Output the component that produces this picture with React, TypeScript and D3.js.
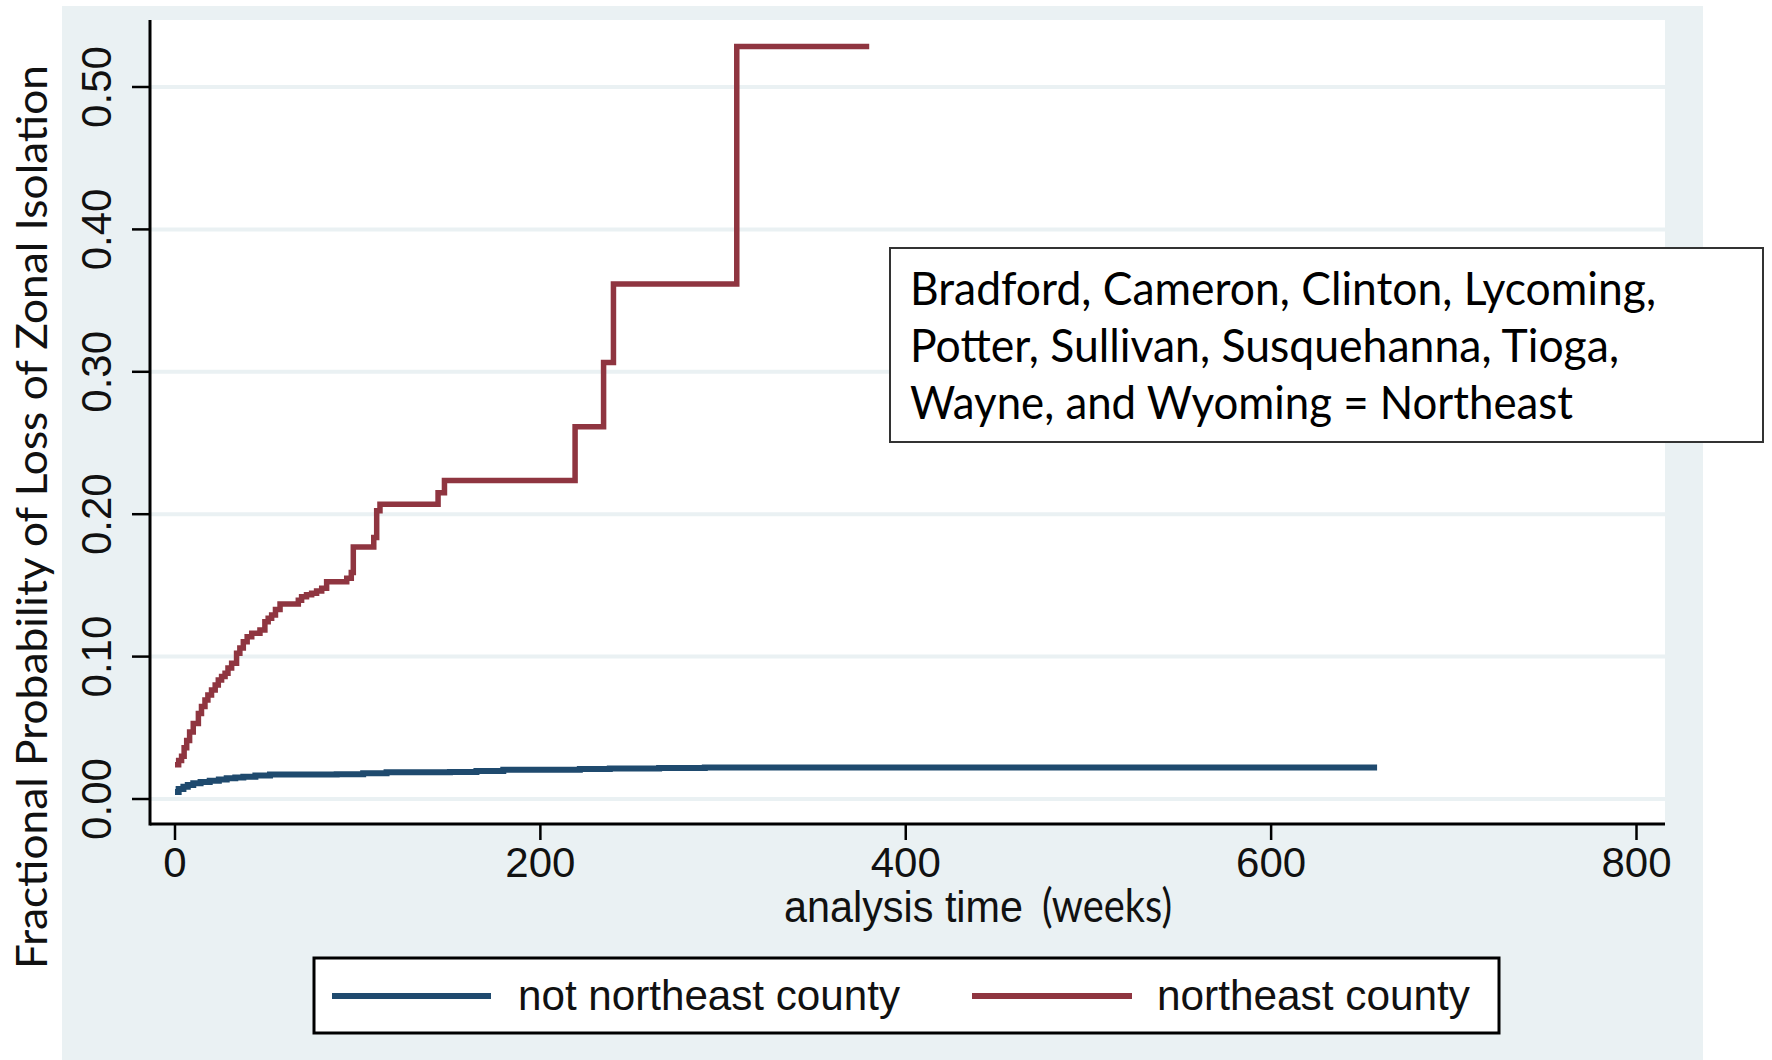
import React from 'react';
import * as d3 from 'd3';

// cumulative failure, [weeks, probability]
const northeast: [number, number][] = [
  [0, 0.024], [2, 0.027], [3.6, 0.030], [5, 0.036], [6.4, 0.041], [8, 0.047],
  [10, 0.053], [12.8, 0.060], [14.5, 0.065], [16.4, 0.0695], [18, 0.073],
  [20, 0.0765], [22, 0.080], [23.7, 0.0836], [25.5, 0.086], [27.4, 0.0883],
  [29, 0.092], [31, 0.0953], [33.7, 0.1023], [35.5, 0.106], [37.4, 0.1105],
  [39.5, 0.114], [42, 0.1164], [46.5, 0.1187], [49.2, 0.1245], [51, 0.127],
  [52.9, 0.1292], [55, 0.133], [57.5, 0.137], [67.5, 0.1395], [69.3, 0.142],
  [72, 0.1435], [74.8, 0.1445], [77.5, 0.146], [80.3, 0.148], [83, 0.1526],
  [94, 0.155], [96.5, 0.159], [97.6, 0.177], [108.8, 0.1837], [110.4, 0.2025],
  [112.2, 0.207], [144, 0.215], [147.5, 0.2237], [219, 0.2614], [234.6, 0.3065],
  [240, 0.3617], [307.5, 0.5285], [380, 0.5285],
];

const notNortheast: [number, number][] = [
  [0, 0.005], [2, 0.007], [4.6, 0.0086], [7, 0.0098], [10, 0.011], [14, 0.012],
  [19, 0.0129], [24, 0.0137], [28.3, 0.0145], [33, 0.0151], [37.4, 0.0157],
  [44, 0.0165], [52, 0.0172], [88.5, 0.0174], [103, 0.018], [115.8, 0.0187],
  [150.5, 0.019], [165, 0.0197], [179.7, 0.0206], [221.6, 0.021], [238, 0.0215],
  [265, 0.0218], [290, 0.0222], [658, 0.0222],
];

const xTicks = [0, 200, 400, 600, 800];
const yTicks = [0, 0.1, 0.2, 0.3, 0.4, 0.5];

const noteLines = [
  'Bradford, Cameron, Clinton, Lycoming,',
  'Potter, Sullivan, Susquehanna, Tioga,',
  'Wayne, and Wyoming = Northeast',
];
const noteWidths = [746, 709, 663];

const NAVY = '#1f4a6e';
const MAROON = '#8f3540';
const BG = '#eaf1f3';

const W = 1772, H = 1060;
const plot = { left: 150, right: 1665, top: 20, bottom: 824 };

export default function App() {
  const x = d3.scaleLinear().domain([0, 800]).range([175, 1636.5]);
  const y = d3.scaleLinear().domain([0, 0.5]).range([799, 87]);

  const line = d3.line<[number, number]>()
    .x(d => x(d[0]))
    .y(d => y(d[1]))
    .curve(d3.curveStepAfter);

  const arial = '"Liberation Sans", Arial, sans-serif';
  const calib = 'Lato, "Open Sans", sans-serif';

  return (
    <svg width={W} height={H} style={{ position: 'absolute', left: 0, top: 0 }}>
      <rect x={0} y={0} width={W} height={H} fill="#ffffff" />
      <rect x={62} y={6} width={1703 - 62} height={H - 6} fill={BG} />
      <rect x={plot.left} y={plot.top} width={plot.right - plot.left} height={plot.bottom - plot.top} fill="#ffffff" />

      {/* grid */}
      {yTicks.map(t => (
        <line key={'g' + t} x1={plot.left} x2={plot.right} y1={y(t)} y2={y(t)} stroke={BG} strokeWidth={4} />
      ))}

      {/* curves */}
      <path d={line(notNortheast) || ''} fill="none" stroke={NAVY} strokeWidth={6} />
      <path d={line(northeast) || ''} fill="none" stroke={MAROON} strokeWidth={5.5} />

      {/* axes */}
      <line x1={plot.left} x2={plot.left} y1={plot.top} y2={plot.bottom + 1.5} stroke="#000" strokeWidth={3} />
      <line x1={plot.left} x2={plot.right} y1={plot.bottom} y2={plot.bottom} stroke="#000" strokeWidth={3} />
      {yTicks.map(t => (
        <g key={'y' + t}>
          <line x1={132} x2={plot.left} y1={y(t)} y2={y(t)} stroke="#000" strokeWidth={2.5} />
          <text transform={`translate(111,${y(t)}) rotate(-90)`} textAnchor="middle"
            fontFamily={arial} fontSize={42} fill="#111">{t.toFixed(2)}</text>
        </g>
      ))}
      {xTicks.map(t => (
        <g key={'x' + t}>
          <line x1={x(t)} x2={x(t)} y1={plot.bottom} y2={840} stroke="#000" strokeWidth={2.5} />
          <text x={x(t)} y={877} textAnchor="middle" fontFamily={arial} fontSize={42} fill="#111">{t}</text>
        </g>
      ))}

      {/* axis titles */}
      <text transform="translate(47,517) rotate(-90)" textAnchor="middle" fontFamily={calib} fontSize={43}
        textLength={904} lengthAdjust="spacingAndGlyphs" fill="#111">
        Fractional Probability of Loss of Zonal Isolation
      </text>
      <text x={784} y={922} fontFamily={arial} fontSize={44} textLength={239} lengthAdjust="spacingAndGlyphs" fill="#111">analysis time</text>
      <text x={1042} y={922} fontFamily={calib} fontSize={46} textLength={130} lengthAdjust="spacingAndGlyphs" fill="#111">(weeks)</text>

      {/* note box */}
      <rect x={890} y={248} width={1763 - 890} height={442 - 248} fill="#ffffff" stroke="#333" strokeWidth={2} />
      {noteLines.map((s, i) => (
        <text key={s} x={910} y={305 + i * 57} fontFamily={calib} fontSize={47} textLength={noteWidths[i]}
          lengthAdjust="spacingAndGlyphs" fill="#000">{s}</text>
      ))}

      {/* legend */}
      <rect x={314} y={958} width={1499 - 314} height={1033 - 958} fill="#ffffff" stroke="#000" strokeWidth={3} />
      <line x1={332} x2={491} y1={996} y2={996} stroke={NAVY} strokeWidth={6} />
      <text x={518} y={1010} fontFamily={arial} fontSize={42} textLength={382} lengthAdjust="spacingAndGlyphs" fill="#111">not northeast county</text>
      <line x1={972} x2={1132} y1={996} y2={996} stroke={MAROON} strokeWidth={6} />
      <text x={1157} y={1010} fontFamily={arial} fontSize={42} textLength={313} lengthAdjust="spacingAndGlyphs" fill="#111">northeast county</text>
    </svg>
  );
}
